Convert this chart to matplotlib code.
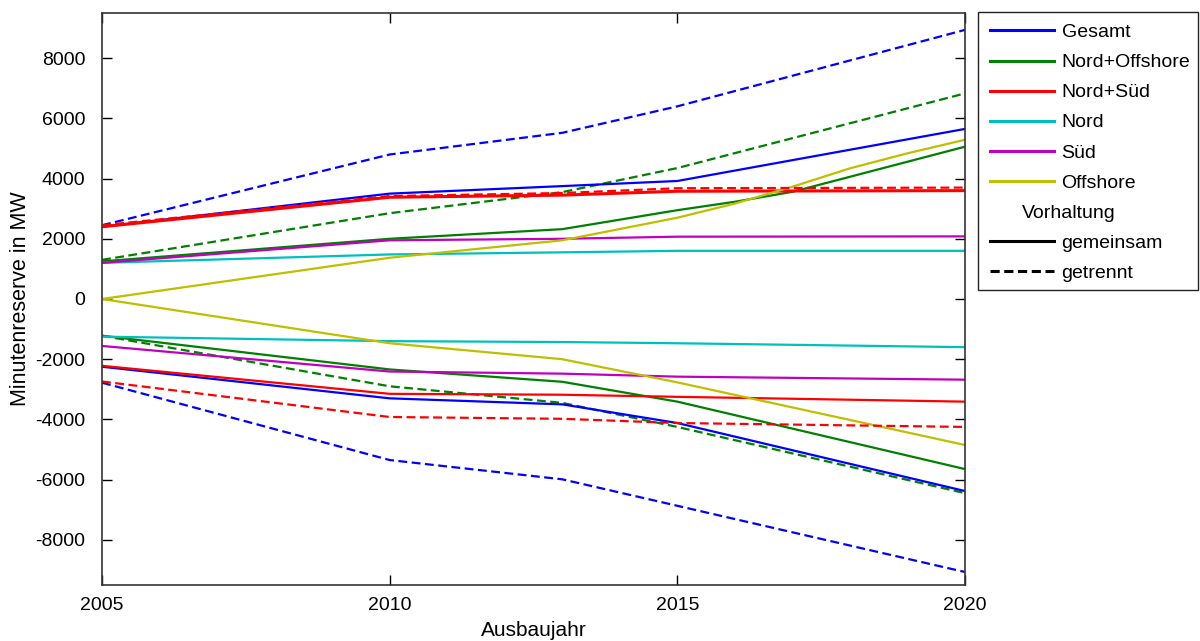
import matplotlib
matplotlib.use("Agg")
import matplotlib.pyplot as plt
from matplotlib.lines import Line2D
from matplotlib.patches import Rectangle

plt.rcParams['font.family'] = ['Liberation Sans', 'DejaVu Sans']
plt.rcParams['axes.unicode_minus'] = False

# break years of the piecewise curves
years = [2005, 2010, 2013, 2015, 2020]
years_fine = [2005, 2010, 2013, 2015, 2016, 2017, 2018, 2019, 2020]

# upper band (positive reserve), solid = gemeinsam, dashed = getrennt
gesamt_pos = [2400, 3500, 3750, 3920, 5650]
gesamt_pos_getr = [2450, 4800, 5520, 6400, 8940]
nordoff_pos = [1250, 2000, 2320, 2950, 3230, 3560, 4060, 4560, 5060]
nordoff_pos_getr = [1300, 2850, 3550, 4350, 6830]
nordsued_pos = [2400, 3380, 3450, 3580, 3600]
nordsued_pos_getr = [2450, 3420, 3520, 3680, 3700]
nord_pos = [1200, 1480, 1550, 1600, 1600]
sued_pos = [1200, 1950, 2000, 2070, 2080]
offshore_pos = [0, 1370, 1950, 2700, 3170, 3730, 4340, 4840, 5290]

# lower band (negative reserve)
gesamt_neg = [-2250, -3300, -3500, -4120, -6380]
gesamt_neg_getr = [-2780, -5350, -5990, -6870, -9070]
nordoff_neg = [-1220, -2340, -2750, -3410, -5650]
nordoff_neg_getr = [-1220, -2900, -3450, -4250, -6450]
nordsued_neg = [-2220, -3150, -3180, -3250, -3410]
nordsued_neg_getr = [-2740, -3920, -3980, -4120, -4250]
nord_neg = [-1250, -1400, -1430, -1470, -1600]
sued_neg = [-1560, -2410, -2480, -2580, -2680]
offshore_neg = [0, -1470, -2000, -2770, -4850]

names = ["Gesamt", "Nord+Offshore", "Nord+Süd", "Nord", "Süd", "Offshore"]
colors = ["#0000ff", "#008000", "#ff0000", "#00bfbf", "#bf00bf", "#bfbf00"]

fig = plt.figure(figsize=(12, 6.41), dpi=100)
ax = fig.add_axes([0.085, 0.0874, 0.7192, 0.8923])

lw = 1.6
dash = (4, 2)

# dashed (getrennt) first
ax.plot(years, gesamt_pos_getr, color=colors[0], lw=lw, dashes=dash)
ax.plot(years, gesamt_neg_getr, color=colors[0], lw=lw, dashes=dash)
ax.plot(years, nordoff_pos_getr, color=colors[1], lw=lw, dashes=dash)
ax.plot(years, nordoff_neg_getr, color=colors[1], lw=lw, dashes=dash)

# solid (gemeinsam)
ax.plot(years, gesamt_pos, color=colors[0], lw=lw)
ax.plot(years, gesamt_neg, color=colors[0], lw=lw)
ax.plot(years_fine, nordoff_pos, color=colors[1], lw=lw)
ax.plot(years, nordoff_neg, color=colors[1], lw=lw)
ax.plot(years, nordsued_pos, color=colors[2], lw=lw + 0.6)
ax.plot(years, nordsued_neg, color=colors[2], lw=lw)
ax.plot(years, nord_pos, color=colors[3], lw=lw)
ax.plot(years, nord_neg, color=colors[3], lw=lw)
ax.plot(years, sued_pos, color=colors[4], lw=lw)
ax.plot(years, sued_neg, color=colors[4], lw=lw)
ax.plot(years_fine, offshore_pos, color=colors[5], lw=lw)
ax.plot(years, offshore_neg, color=colors[5], lw=lw)

ax.plot(years, nordsued_pos_getr, color=colors[2], lw=lw, dashes=dash)
ax.plot(years, nordsued_neg_getr, color=colors[2], lw=lw, dashes=dash)

ax.set_xlim(2005, 2020)
ax.set_ylim(-9500, 9500)
ax.set_xticks([2005, 2010, 2015, 2020])
ax.set_yticks(range(-8000, 8001, 2000))
ax.tick_params(direction='in', top=True, right=True, labelsize=14,
               length=7, width=1)
ax.tick_params(axis='y', pad=12)
ax.tick_params(axis='x', pad=9)
for s in ax.spines.values():
    s.set_linewidth(1.2)
    s.set_color("#333333")
ax.set_xlabel("Ausbaujahr", fontsize=15, labelpad=5)
ax.set_ylabel("Minutenreserve in MW", fontsize=15.5, labelpad=3)

# legend box drawn by hand (tight right margin like the original)
fig.patches.append(Rectangle((978 / 1200, 1 - 290 / 641), 220 / 1200, 278 / 641,
                             transform=fig.transFigure, facecolor='white',
                             edgecolor='#222222', lw=1.0, zorder=4))

handles = [Line2D([], [], color=c, lw=2.2) for c in colors]
handles.append(Line2D([], [], color='none'))
handles.append(Line2D([], [], color='black', lw=2.2))
handles.append(Line2D([], [], color='black', lw=2.2, dashes=(3, 1.5)))
labels = names + [" ", "gemeinsam", "getrennt"]
leg = fig.legend(handles, labels, loc='upper left',
                 bbox_to_anchor=(978 / 1200, 1 - 12 / 641),
                 fontsize=14, handlelength=3.3, handletextpad=0.4,
                 labelspacing=0.64, borderpad=0.6, borderaxespad=0,
                 frameon=False)
leg.set_zorder(6)
fig.text(1022 / 1200, 1 - 214 / 641, "Vorhaltung", fontsize=14,
         va='center', ha='left', zorder=10)

plt.savefig("out.png", dpi=100)
